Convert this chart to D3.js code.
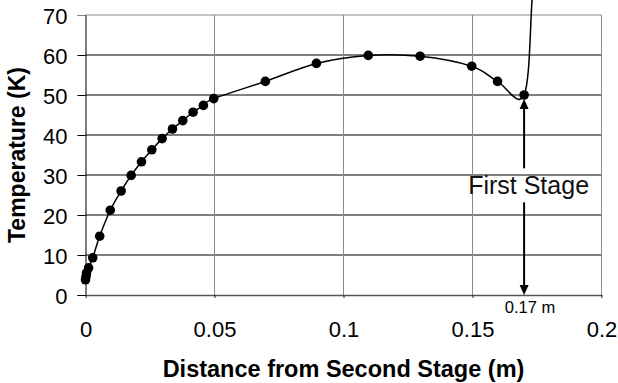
<!DOCTYPE html>
<html>
<head>
<meta charset="utf-8">
<script src="https://cdn.jsdelivr.net/npm/d3@7"></script>
<style>
  body { margin: 0; background: #fff; }
  svg { display: block; font-family: "Liberation Sans", Arial, sans-serif; }
</style>
</head>
<body>
<script>
// distancia desde la segunda etapa (m) y temperatura (K)
const distancia = [0, 0.0002, 0.0004, 0.0012, 0.0028, 0.0055, 0.0096, 0.0138, 0.0177, 0.0217,
    0.0257, 0.0297, 0.0337, 0.0377, 0.0417, 0.0457, 0.0497, 0.0697, 0.0895, 0.1096,
    0.1297, 0.1497, 0.1597, 0.17]
const temperatura = [3.8, 4.6, 5.5, 6.8, 9.3, 14.7, 21.2, 26, 29.9, 33.3,
    36.3, 39.1, 41.5, 43.6, 45.7, 47.4, 49.1, 53.4, 57.9, 59.9,
    59.7, 57.2, 53.4, 50]
// puntos de la curva fuera del rango del eje (sin marcador)
const distanciaFuera = [0.1731, 0.1752]
const temperaturaFuera = [74, 100]

const ticksX = [0, 0.05, 0.1, 0.15, 0.2]
const ticksY = [0, 10, 20, 30, 40, 50, 60, 70]

const etapaX = 0.17
const etiquetaEtapa = "First Stage"
const etiquetaDist = "0.17 m"
const tituloX = "Distance from Second Stage (m)"
const tituloY = "Temperature (K)"

const width = 618
const height = 383
const margin = { top: 15, right: 16.5, bottom: 88, left: 85.5 }

const x = d3.scaleLinear().domain([0, 0.2]).range([margin.left, width - margin.right])
const y = d3.scaleLinear().domain([0, 70]).range([height - margin.bottom, margin.top])

const puntos = distancia.map((d, i) => ({ x: d, y: temperatura[i] }))
const curva = puntos.concat(distanciaFuera.map((d, i) => ({ x: d, y: temperaturaFuera[i] })))

const svg = d3.select("body").append("svg")
    .attr("width", width)
    .attr("height", height)

svg.append("rect").attr("width", width).attr("height", height).attr("fill", "#fff")

// cuadricula horizontal
svg.append("g")
    .selectAll("line")
    .data(ticksY.filter(d => d > 0 && d < 70))
    .enter()
    .append("line")
    .attr("x1", x(0)).attr("x2", x(0.2))
    .attr("y1", d => y(d)).attr("y2", d => y(d))
    .attr("stroke", "#000")
    .attr("stroke-width", 1)

// cuadricula vertical
svg.append("g")
    .selectAll("line")
    .data(ticksX.filter(d => d > 0))
    .enter()
    .append("line")
    .attr("x1", d => x(d)).attr("x2", d => x(d))
    .attr("y1", y(70)).attr("y2", y(0))
    .attr("stroke", "#888")
    .attr("stroke-width", 1)

// borde superior
svg.append("line")
    .attr("x1", x(0)).attr("x2", x(0.2))
    .attr("y1", y(70)).attr("y2", y(70))
    .attr("stroke", "#888")

// eje Y
const ejeY = svg.append("g")
    .attr("transform", `translate(${x(0)},0)`)
    .call(d3.axisLeft(y).tickValues(ticksY).tickSize(8).tickPadding(10).tickFormat(d => d))
ejeY.select(".domain").attr("stroke", "#000")
ejeY.selectAll(".tick line").attr("stroke", d => d === 70 ? "#888" : "#000")
ejeY.selectAll("text")
    .attr("font-size", 22)
    .attr("font-family", "Liberation Sans, Arial, sans-serif")
    .attr("fill", "#000")
    .attr("dy", "0.4em")

// eje X
const ejeX = svg.append("g")
    .attr("transform", `translate(0,${y(0)})`)
    .call(d3.axisBottom(x).tickValues(ticksX).tickSize(3).tickSizeOuter(0).tickFormat(d => d))
ejeX.select(".domain").attr("stroke", "#555").attr("stroke-width", 1.5)
ejeX.selectAll(".tick line").attr("stroke", "#222")
ejeX.selectAll("text")
    .attr("font-size", 22)
    .attr("font-family", "Liberation Sans, Arial, sans-serif")
    .attr("fill", "#000")
    .attr("y", 42)
    .attr("dy", 0)

// curva suavizada
const linea = d3.line()
    .x(d => x(d.x))
    .y(d => y(d.y))
    .curve(d3.curveCardinal.tension(0))

svg.append("path")
    .datum(curva)
    .attr("d", linea)
    .attr("fill", "none")
    .attr("stroke", "#000")
    .attr("stroke-width", 1.5)

svg.append("g")
    .selectAll("circle")
    .data(puntos)
    .enter()
    .append("circle")
    .attr("cx", d => x(d.x))
    .attr("cy", d => y(d.y))
    .attr("r", 4.8)
    .attr("fill", "#000")

// flecha de la primera etapa
const ax = x(etapaX)
const arriba = y(49)
const abajo = y(0)
const textoY = 194.3
const flecha = svg.append("g")
flecha.append("line")
    .attr("x1", ax).attr("x2", ax)
    .attr("y1", arriba + 8).attr("y2", textoY - 26)
    .attr("stroke", "#000").attr("stroke-width", 2)
flecha.append("line")
    .attr("x1", ax).attr("x2", ax)
    .attr("y1", textoY + 8).attr("y2", abajo - 9)
    .attr("stroke", "#000").attr("stroke-width", 2)
flecha.append("path")
    .attr("d", `M ${ax} ${arriba} l 4.5 10 h -9 z`)
    .attr("fill", "#000")
flecha.append("path")
    .attr("d", `M ${ax} ${abajo} l 4.5 -10 h -9 z`)
    .attr("fill", "#000")

svg.append("text")
    .attr("x", ax + 4.5)
    .attr("y", textoY)
    .attr("text-anchor", "middle")
    .attr("font-size", 25)
    .attr("fill", "#111")
    .text(etiquetaEtapa)

svg.append("text")
    .attr("x", ax + 6)
    .attr("y", 313)
    .attr("text-anchor", "middle")
    .attr("font-size", 16.5)
    .attr("fill", "#000")
    .text(etiquetaDist)

// titulos
svg.append("text")
    .attr("x", (x(0) + x(0.2)) / 2)
    .attr("y", 377)
    .attr("text-anchor", "middle")
    .attr("font-size", 23.5)
    .attr("font-weight", "700")
    .text(tituloX)

svg.append("text")
    .attr("transform", `translate(25,155) rotate(-90)`)
    .attr("text-anchor", "middle")
    .attr("font-size", 23)
    .attr("font-weight", "700")
    .text(tituloY)
</script>
</body>
</html>
